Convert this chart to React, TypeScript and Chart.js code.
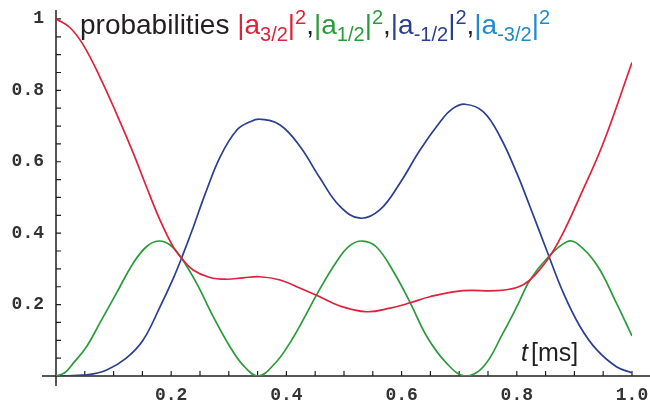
import { useEffect, useRef } from "react";
import { Chart, registerables } from "chart.js";

Chart.register(...registerables);

// ---- data ----
const redT = [0, 0.024, 0.047, 0.076, 0.105, 0.134, 0.157, 0.181, 0.204, 0.218, 0.238, 0.267, 0.296, 0.325, 0.354, 0.389, 0.424, 0.455, 0.493, 0.539, 0.58, 0.615, 0.649, 0.707, 0.765, 0.8, 0.823, 0.855, 0.878, 0.908, 0.95, 1.0];
const redV = [1.0, 0.976, 0.928, 0.838, 0.735, 0.625, 0.53, 0.435, 0.36, 0.33, 0.297, 0.276, 0.271, 0.275, 0.278, 0.269, 0.246, 0.224, 0.196, 0.18, 0.19, 0.205, 0.222, 0.239, 0.239, 0.248, 0.269, 0.33, 0.393, 0.497, 0.652, 0.878];

const greenT = [0, 0.015, 0.03, 0.053, 0.076, 0.105, 0.134, 0.157, 0.178, 0.198, 0.218, 0.244, 0.273, 0.302, 0.325, 0.351, 0.38, 0.405, 0.43, 0.455, 0.487, 0.51, 0.532, 0.556, 0.586, 0.615, 0.644, 0.678, 0.71, 0.742, 0.776, 0.8, 0.823, 0.855, 0.887, 0.904, 0.939, 0.973, 1.0];
const greenV = [0, 0.009, 0.036, 0.082, 0.148, 0.232, 0.316, 0.362, 0.378, 0.367, 0.33, 0.26, 0.166, 0.082, 0.03, 0, 0.035, 0.09, 0.16, 0.235, 0.32, 0.365, 0.378, 0.362, 0.292, 0.205, 0.11, 0.036, 0, 0.026, 0.12, 0.194, 0.269, 0.334, 0.376, 0.372, 0.311, 0.204, 0.112];

const blueT = [0, 0.053, 0.088, 0.122, 0.151, 0.181, 0.204, 0.218, 0.238, 0.259, 0.285, 0.314, 0.337, 0.354, 0.389, 0.424, 0.458, 0.493, 0.528, 0.562, 0.597, 0.632, 0.667, 0.688, 0.71, 0.742, 0.771, 0.8, 0.823, 0.85, 0.881, 0.91, 0.939, 0.973, 1.0];
const blueV = [0, 0.003, 0.017, 0.05, 0.1, 0.195, 0.275, 0.33, 0.415, 0.51, 0.614, 0.689, 0.712, 0.719, 0.703, 0.642, 0.555, 0.475, 0.442, 0.465, 0.54, 0.633, 0.712, 0.748, 0.761, 0.74, 0.67, 0.568, 0.474, 0.36, 0.232, 0.138, 0.073, 0.026, 0.009];

const xTickValues = [0.2, 0.4, 0.6, 0.8, 1.0];
const xTickLabels = ["0.2", "0.4", "0.6", "0.8", "1.0"];
const yTickValues = [0.2, 0.4, 0.6, 0.8, 1.0];
const yTickLabels = ["0.2", "0.4", "0.6", "0.8", "1"];
const minorTicks = [0.05, 0.1, 0.15, 0.2, 0.25, 0.3, 0.35, 0.4, 0.45, 0.5, 0.55, 0.6, 0.65, 0.7, 0.75, 0.8, 0.85, 0.9, 0.95, 1.0];

const RED = "#e0213a";
const GREEN = "#2b9a3c";
const BLUE = "#2a3f8f";
const LIGHTBLUE = "#1f8bcc";
const TEXT = "#231f20";

const TICK_FONT = { family: "'Liberation Mono', 'DejaVu Sans Mono', monospace", size: 18, weight: "bold" as const };

type Seg = { text: string; color: string; kind?: "sub" | "sup" };

const titleSegs: Seg[] = [
  { text: "probabilities ", color: TEXT },
  { text: "|a", color: RED }, { text: "3/2", color: RED, kind: "sub" }, { text: "|", color: RED }, { text: "2", color: RED, kind: "sup" }, { text: ",", color: TEXT },
  { text: "|a", color: GREEN }, { text: "1/2", color: GREEN, kind: "sub" }, { text: "|", color: GREEN }, { text: "2", color: GREEN, kind: "sup" }, { text: ",", color: TEXT },
  { text: "|a", color: BLUE }, { text: "-1/2", color: BLUE, kind: "sub" }, { text: "|", color: BLUE }, { text: "2", color: BLUE, kind: "sup" }, { text: ",", color: TEXT },
  { text: "|a", color: LIGHTBLUE }, { text: "-3/2", color: LIGHTBLUE, kind: "sub" }, { text: "|", color: LIGHTBLUE }, { text: "2", color: LIGHTBLUE, kind: "sup" },
];

const axesPlugin = {
  id: "mmaAxes",
  beforeDatasetsDraw(chart: any) {
    const { ctx, chartArea, scales } = chart;
    const xs = scales.x;
    const ys = scales.y;
    const x0 = xs.getPixelForValue(0);
    const y0 = ys.getPixelForValue(0);
    ctx.save();
    ctx.strokeStyle = "#231f20";
    ctx.lineWidth = 1.5;
    ctx.beginPath();
    ctx.moveTo(chartArea.left - 14, y0);
    ctx.lineTo(chart.width, y0);
    ctx.moveTo(x0, chartArea.top);
    ctx.lineTo(x0, y0 + 10);
    ctx.stroke();
    ctx.lineWidth = 1.2;
    ctx.beginPath();
    for (const v of minorTicks) {
      const px = xs.getPixelForValue(v);
      ctx.moveTo(px, y0);
      ctx.lineTo(px, y0 - 5);
      const py = ys.getPixelForValue(v);
      ctx.moveTo(x0, py);
      ctx.lineTo(x0 + 5, py);
    }
    ctx.stroke();
    ctx.restore();
  },
  afterDraw(chart: any) {
    const { ctx } = chart;
    ctx.save();
    const base = 34;
    let x = 80;
    const family = "'Liberation Sans', Arial, sans-serif";
    ctx.textBaseline = "alphabetic";
    ctx.textAlign = "left";
    for (const s of titleSegs) {
      let size = 28;
      let dy = 0;
      if (s.kind === "sub") { size = 20; dy = 7; }
      if (s.kind === "sup") { size = 20; dy = -10; }
      ctx.font = `${size}px ${family}`;
      ctx.fillStyle = s.color;
      ctx.fillText(s.text, x, base + dy);
      x += ctx.measureText(s.text).width;
    }
    // axis label t [ms]
    ctx.fillStyle = TEXT;
    ctx.font = `italic 25px ${family}`;
    ctx.fillText("t", 521, 361);
    ctx.font = `25px ${family}`;
    ctx.fillText("[ms]", 531, 361);
    ctx.restore();
  },
};

export default function App() {
  const ref = useRef<HTMLCanvasElement | null>(null);
  useEffect(() => {
    if (!ref.current) return;
    const mk = (t: number[], v: number[], color: string) => ({
      data: t.map((tt, i) => ({ x: tt, y: v[i] })),
      borderColor: color,
      borderWidth: 1.7,
      pointRadius: 0,
      fill: false,
      tension: 0.4,
    });
    const chart = new Chart(ref.current, {
      type: "line",
      data: {
        datasets: [mk(redT, redV, RED), mk(greenT, greenV, GREEN), mk(blueT, blueV, BLUE)],
      },
      options: {
        responsive: false,
        animation: false,
        layout: { padding: { top: 10, right: 18, left: 0, bottom: 0 } },
        plugins: { legend: { display: false }, tooltip: { enabled: false } },
        scales: {
          x: {
            type: "linear",
            min: 0,
            max: 1,
            grid: { display: false, drawTicks: false },
            border: { display: false },
            afterBuildTicks: (s: any) => { s.ticks = xTickValues.map((v) => ({ value: v })); },
            afterFit: (s: any) => { s.height = 38; s.paddingLeft = 0; s.paddingRight = 0; },
            ticks: {
              font: TICK_FONT,
              color: "#333",
              padding: 9,
              autoSkip: false,
              maxRotation: 0,
              callback: (v: any) => { const i = xTickValues.indexOf(Number(v)); return i >= 0 ? xTickLabels[i] : ""; },
            },
          },
          y: {
            type: "linear",
            min: 0,
            max: 1.025,
            grid: { display: false, drawTicks: false },
            border: { display: false },
            afterBuildTicks: (s: any) => { s.ticks = yTickValues.map((v) => ({ value: v })); },
            afterFit: (s: any) => { s.width = 56; s.paddingTop = 0; s.paddingBottom = 0; },
            ticks: {
              font: TICK_FONT,
              color: "#333",
              padding: 12,
              autoSkip: false,
              callback: (v: any) => { const i = yTickValues.indexOf(Number(v)); return i >= 0 ? yTickLabels[i] : ""; },
            },
          },
        },
      },
      plugins: [axesPlugin],
    });
    return () => chart.destroy();
  }, []);
  return (
    <div style={{ position: "absolute", left: 0, top: 0, width: 650, height: 414, background: "#fff" }}>
      <canvas ref={ref} width={650} height={414} style={{ display: "block" }} />
    </div>
  );
}
